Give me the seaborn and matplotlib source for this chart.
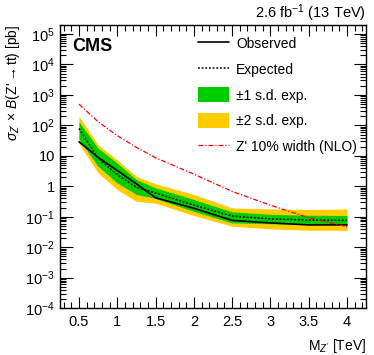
import math

import matplotlib
matplotlib.use("Agg")
import matplotlib.pyplot as plt
import matplotlib.ticker as mticker
from matplotlib.patches import Patch
from matplotlib.lines import Line2D
import pandas as pd
import seaborn as sns

# Z' mass points [TeV]
mass = [0.5, 0.75, 1.0, 1.25, 1.5, 2.0, 2.5, 3.0, 3.5, 4.0]
# limits [pb]
observed = [29, 8.9, 3.3, 1.2, 0.42, 0.19, 0.076, 0.063, 0.054, 0.054]
expected = [79, 8.3, 2.4, 0.93, 0.60, 0.24, 0.105, 0.085, 0.078, 0.076]
band1_up = [132, 17.8, 5.8, 1.66, 0.89, 0.37, 0.145, 0.12, 0.112, 0.11]
band1_dn = [35, 4.5, 1.29, 0.54, 0.40, 0.15, 0.063, 0.059, 0.056, 0.056]
band2_up = [200, 23, 7.4, 2.1, 1.2, 0.54, 0.195, 0.18, 0.174, 0.18]
band2_dn = [25, 2.75, 0.78, 0.32, 0.28, 0.11, 0.049, 0.040, 0.036, 0.036]
zprime_xsec = [500, 132, 46, 19, 8.7, 2.5, 0.68, 0.24, 0.093, 0.047]

df = pd.DataFrame({"mass": mass, "observed": observed, "expected": expected,
                   "zprime": zprime_xsec})

sns.set_style("ticks")
plt.rcParams["font.family"] = ["Liberation Sans", "DejaVu Sans"]
plt.rcParams["mathtext.fontset"] = "custom"
plt.rcParams["mathtext.rm"] = "Liberation Sans"
plt.rcParams["mathtext.it"] = "Liberation Sans:italic"
plt.rcParams["axes.edgecolor"] = "black"
plt.rcParams["xtick.color"] = "black"
plt.rcParams["ytick.color"] = "black"
plt.rcParams["text.color"] = "black"
plt.rcParams["axes.labelcolor"] = "black"

green = "#00cc00"
yellow = "#ffcc00"
obs_style = dict(color="black", lw=1.2)
exp_style = dict(color="black", lw=1.1, linestyle=(0, (1.2, 1.2)))
zp_style = dict(color="red", lw=0.9, linestyle=(0, (4, 1.5, 1, 1.5)))

fig = plt.figure(figsize=(3.74, 3.55), dpi=100)
ax = fig.add_axes([0.16, 0.132, 0.819, 0.798])

ax.fill_between(mass, band2_dn, band2_up, color=yellow, lw=0)
ax.fill_between(mass, band1_dn, band1_up, color=green, lw=0)
sns.lineplot(data=df, x="mass", y="expected", ax=ax, **exp_style)
sns.lineplot(data=df, x="mass", y="observed", ax=ax, **obs_style)
sns.lineplot(data=df, x="mass", y="zprime", ax=ax, **zp_style)

ax.set_yscale("log")
ax.set_xlim(0.25, 4.25)
ax.set_ylim(1e-4, 2e5)

ax.xaxis.set_major_locator(mticker.MultipleLocator(0.5))
ax.xaxis.set_minor_locator(mticker.MultipleLocator(0.1))
ax.xaxis.set_major_formatter(mticker.FuncFormatter(lambda v, p: f"{v:g}"))
ax.yaxis.set_major_locator(mticker.LogLocator(base=10, numticks=20))
ax.yaxis.set_minor_locator(mticker.LogLocator(base=10, subs=range(2, 10), numticks=20))


def yfmt(v, p):
    e = int(round(math.log10(v)))
    if e == 0:
        return "1"
    if e == 1:
        return "10"
    return r"$10^{%d}$" % e


ax.yaxis.set_major_formatter(mticker.FuncFormatter(yfmt))
ax.yaxis.set_minor_formatter(mticker.NullFormatter())

ax.tick_params(which="both", direction="in", top=True, right=True, labelsize=10.5,
               width=0.8)
ax.tick_params(axis="x", which="major", length=8, pad=5)
ax.tick_params(axis="x", which="minor", length=4)
ax.tick_params(axis="y", which="major", length=9)
ax.tick_params(axis="y", which="minor", length=4.5)
for s in ax.spines.values():
    s.set_linewidth(1.0)

ax.set_xlabel("M$_{Z'}$ [TeV]", fontsize=10, loc="right", labelpad=6)
ax.set_ylabel(r"$\sigma_{Z'}$ $\times$ $\mathit{B}$(Z'$\rightarrow$tt) [pb]",
              fontsize=10, loc="top", labelpad=2)

ax.text(0.04, 0.955, "CMS", transform=ax.transAxes, fontsize=13,
        fontweight="bold", va="top", ha="left")
fig.text(0.979, 0.962, "2.6 fb$^{-1}$ (13 TeV)", fontsize=10.5,
         ha="right", va="center")

handles = [
    Line2D([], [], **obs_style),
    Line2D([], [], **exp_style),
    Patch(facecolor=green, edgecolor="none"),
    Patch(facecolor=yellow, edgecolor="none"),
    Line2D([], [], **zp_style),
]
labels = ["Observed", "Expected", "\u00b11 s.d. exp.", "\u00b12 s.d. exp.",
          "Z' 10% width (NLO)"]
ax.legend(handles, labels, loc="upper left", bbox_to_anchor=(0.43, 0.985),
          frameon=False, fontsize=10, handlelength=2.2, handleheight=1.3,
          labelspacing=0.75, borderpad=0, handletextpad=0.5)

fig.savefig("out.png", dpi=100)
